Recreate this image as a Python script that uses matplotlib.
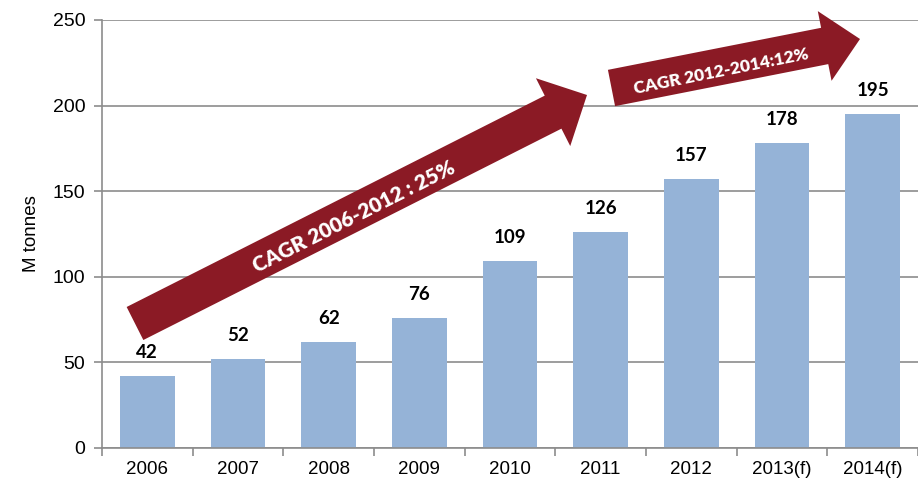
import matplotlib
matplotlib.use("Agg")
import matplotlib.pyplot as plt
from matplotlib.patches import FancyArrow
from matplotlib.transforms import IdentityTransform

years = ['2006', '2007', '2008', '2009', '2010', '2011', '2012', '2013(f)', '2014(f)']
volumes = [42, 52, 62, 76, 109, 126, 157, 178, 195]
yticks = [0, 50, 100, 150, 200, 250]

bar_color = '#95b3d7'
arrow_color = '#8b1a25'
grid_color = '#8c8c8c'

W, H = 918, 487
fig = plt.figure(figsize=(W / 100, H / 100), dpi=100)
ax = fig.add_axes([102 / W, 1 - 448 / H, 1 - 102 / W, (448 - 20) / H])

x = list(range(len(years)))
ax.bar(x, volumes, width=0.6, color=bar_color, zorder=2)

for xi, v in zip(x, volumes):
    ax.annotate(str(v), (xi, v), xytext=(0, 11), textcoords='offset points',
                ha='center', va='bottom', fontsize=13.5, fontweight='bold',
                family=['Lato', 'DejaVu Sans'], color='black')

ax.set_xlim(-0.5, len(years) - 0.5)
ax.set_ylim(0, 250)
ax.set_yticks(yticks)
ax.set_xticks(x)
ax.set_xticklabels(years, family=['Liberation Sans'], fontsize=13.5)
ax.set_xticks([i + 0.5 for i in range(-1, len(years))], minor=True)
ax.tick_params(axis='x', which='major', length=0, pad=9)
ax.tick_params(axis='x', which='minor', length=6, color=grid_color, width=1.2)
ax.tick_params(axis='y', length=6, color=grid_color, width=1.2, pad=6)
for lab in ax.get_yticklabels():
    lab.set_family('Liberation Sans')
    lab.set_fontsize(14)

ax.yaxis.grid(True, color=grid_color, linewidth=1.2, zorder=0)
ax.set_axisbelow(True)
for side in ['top', 'right']:
    ax.spines[side].set_visible(False)
for side in ['left', 'bottom']:
    ax.spines[side].set_color(grid_color)
    ax.spines[side].set_linewidth(1.2)

ax.set_ylabel('M tonnes', family='Liberation Sans', fontsize=13.5, labelpad=9)

# arrows drawn in pixel coordinates (y measured from the top of the picture)
def arrow(tail, tip, width, head_w, head_l):
    x0, y0 = tail[0], H - tail[1]
    x1, y1 = tip[0], H - tip[1]
    p = FancyArrow(x0, y0, x1 - x0, y1 - y0, width=width, head_width=head_w,
                   head_length=head_l, length_includes_head=True,
                   transform=IdentityTransform(), color=arrow_color,
                   linewidth=0, zorder=5)
    fig.patches.append(p)

arrow((135, 323.5), (587, 95), 37, 76, 38)
arrow((611.5, 88), (860, 39), 37, 71, 36)

fig.text(354 / W, 1 - 217 / H, 'CAGR 2006-2012 : 25%', rotation=26.8,
         rotation_mode='anchor', ha='center', va='center', color='white',
         fontsize=15, fontweight='heavy', family=['Lato', 'DejaVu Sans'], zorder=6)
fig.text(721 / W, 1 - 72 / H, 'CAGR 2012-2014:12%', rotation=11.4,
         rotation_mode='anchor', ha='center', va='center', color='white',
         fontsize=12.5, fontweight='heavy', family=['Lato', 'DejaVu Sans'], zorder=6)

fig.savefig('out.png', dpi=100)
